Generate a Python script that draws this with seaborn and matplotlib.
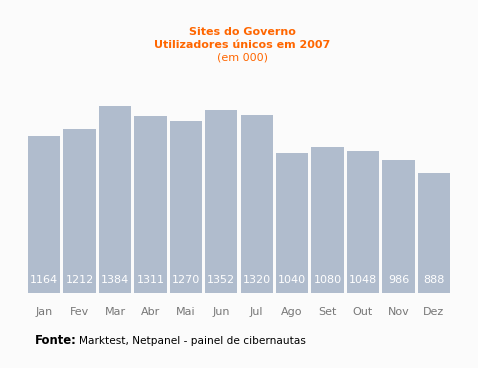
import pandas as pd
import seaborn as sns
import matplotlib.pyplot as plt

months = ['Jan', 'Fev', 'Mar', 'Abr', 'Mai', 'Jun', 'Jul', 'Ago', 'Set', 'Out', 'Nov', 'Dez']
users = [1164, 1212, 1384, 1311, 1270, 1352, 1320, 1040, 1080, 1048, 986, 888]

df = pd.DataFrame({'month': months, 'users': users})

sns.set_style('white')
plt.rcParams['font.family'] = ['DejaVu Sans']

fig = plt.figure(figsize=(4.78, 3.68), dpi=100, facecolor='#fbfbfb')
ax = fig.add_axes([0.0552, 0.2038, 0.8895, 0.508])
ax.set_facecolor('#fbfbfb')

sns.barplot(data=df, x='month', y='users', color='#b0bccd', saturation=1,
            width=0.91, linewidth=0, ax=ax)

# values written inside the bars
for i, v in enumerate(users):
    ax.text(i, 60, str(v), ha='center', va='bottom', color='white', fontsize=8)

ax.set_ylim(0, 1384)
ax.set_xlim(-0.5, 11.5)
ax.set_yticks([])
ax.set_xlabel('')
ax.set_ylabel('')
ax.tick_params(axis='x', length=0, pad=10, labelsize=8, labelcolor='#777777')
sns.despine(ax=ax, left=True, bottom=True)

# title block
fig.text(242 / 478, (368 - 32) / 368, 'Sites do Governo', ha='center', va='center',
         color='#ff6600', fontsize=8, fontweight='bold')
fig.text(242 / 478, (368 - 45) / 368, 'Utilizadores únicos em 2007', ha='center', va='center',
         color='#ff6600', fontsize=8, fontweight='bold')
fig.text(242 / 478, (368 - 58) / 368, '(em 000)', ha='center', va='center',
         color='#ff6600', fontsize=8)

# source note
fig.text(35 / 478, (368 - 341) / 368, 'Fonte:', ha='left', va='center',
         color='black', fontsize=8.4, fontweight='bold')
fig.text(79 / 478, (368 - 341) / 368, 'Marktest, Netpanel - painel de cibernautas',
         ha='left', va='center', color='black', fontsize=7.6)

fig.savefig('out.png', dpi=100, facecolor=fig.get_facecolor())
